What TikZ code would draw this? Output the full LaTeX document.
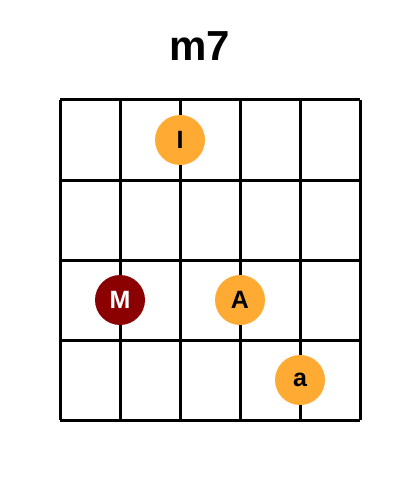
\documentclass[tikz,border=0pt]{standalone}
\usepackage{fontspec}
\setmainfont{Liberation Sans}
\definecolor{dotorange}{HTML}{FFAA33}
\definecolor{dotred}{HTML}{8B0000}
\begin{document}
\begin{tikzpicture}[x=1pt,y=-1pt,
  gridline/.style={line width=3pt,black},
  dot/.style={circle,minimum size=50pt,inner sep=0pt,fill=dotorange,font=\fontsize{25}{25}\selectfont\bfseries,text=black},
  rootdot/.style={dot,fill=dotred,text=white}]
\useasboundingbox (0,0) rectangle (400,500);
\node[font=\fontsize{42}{42}\selectfont\bfseries] (title) at (200,46) {m7};
\foreach \x in {60,120,180,240,300,360} \draw[gridline] (\x,100) -- (\x,420);
\foreach \y in {100,180,260,340,420} \draw[gridline] (60,\y) -- (360,\y);
\node[dot] (I) at (180,140) {I};
\node[rootdot] (M) at (120,300) {M};
\node[dot] (A) at (240,300) {A};
\node[dot] (a) at (300,380) {a};
\end{tikzpicture}
\end{document}
